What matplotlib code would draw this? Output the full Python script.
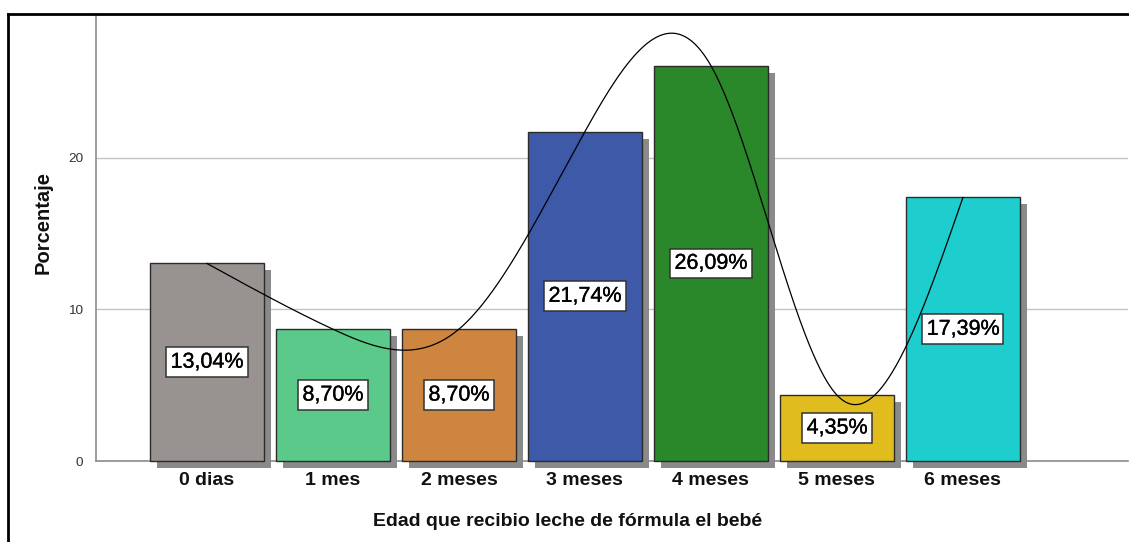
import numpy as np
import matplotlib
matplotlib.use("Agg")
import matplotlib.pyplot as plt
from matplotlib import patheffects as pe
from matplotlib.lines import Line2D

categories = ["0 dias", "1 mes", "2 meses", "3 meses", "4 meses", "5 meses", "6 meses"]
values = [13.04, 8.70, 8.70, 21.74, 26.09, 4.35, 17.39]
labels = ["13,04%", "8,70%", "8,70%", "21,74%", "26,09%", "4,35%", "17,39%"]
colors = ["#989391", "#5ac98a", "#cd853f", "#3d59a8", "#2a872a", "#e0bc1f", "#1ecdcd"]
yticks = [0, 10, 20]

plt.rcParams['font.family'] = ['Liberation Sans', 'DejaVu Sans']

W, H = 1129, 542
fig = plt.figure(figsize=(W / 100, H / 100), dpi=100)
ax = fig.add_axes([96 / W, (H - 461) / H, (1128 - 96) / W, (461 - 15.5) / H])

x = np.arange(len(categories))
shadow = [pe.SimplePatchShadow(offset=(5, -5), shadow_rgbFace='#8a8a8a', alpha=1.0), pe.Normal()]
bars = ax.bar(x, values, width=0.9, color=colors, edgecolor='#2b2b2b', linewidth=1.0, zorder=3)
for b in bars:
    b.set_path_effects(shadow)
    b.set_clip_on(False)

# natural cubic spline through bar tops
def natural_spline(xs, ys, xq):
    xs = np.asarray(xs, float); ys = np.asarray(ys, float)
    n = len(xs)
    h = np.diff(xs)
    A = np.zeros((n, n)); rhs = np.zeros(n)
    A[0, 0] = 1; A[-1, -1] = 1
    for i in range(1, n - 1):
        A[i, i - 1] = h[i - 1]
        A[i, i] = 2 * (h[i - 1] + h[i])
        A[i, i + 1] = h[i]
        rhs[i] = 6 * ((ys[i + 1] - ys[i]) / h[i] - (ys[i] - ys[i - 1]) / h[i - 1])
    M = np.linalg.solve(A, rhs)
    out = np.empty_like(xq)
    for k, xv in enumerate(xq):
        i = min(max(np.searchsorted(xs, xv) - 1, 0), n - 2)
        t0 = xs[i + 1] - xv; t1 = xv - xs[i]
        out[k] = (M[i] * t0 ** 3 + M[i + 1] * t1 ** 3) / (6 * h[i]) \
            + (ys[i] / h[i] - M[i] * h[i] / 6) * t0 + (ys[i + 1] / h[i] - M[i + 1] * h[i] / 6) * t1
    return out

xq = np.linspace(x[0], x[-1], 600)
ax.plot(xq, natural_spline(x, values, xq), color='black', linewidth=0.9, zorder=5)

medium = [pe.withStroke(linewidth=0.25, foreground='black')]
for xi, v, lab in zip(x, values, labels):
    t = ax.text(xi, v / 2, lab, ha='center', va='center', fontsize=15.5, fontweight='normal', color='black',
                zorder=6, bbox=dict(boxstyle='square,pad=0.2', facecolor='white', edgecolor='#333333', linewidth=1.1))
    t.set_path_effects(medium)

ax.set_xlim(-0.88, 7.31)
ax.set_ylim(0, 29.4)
ax.set_yticks(yticks)
ax.set_yticklabels([str(t) for t in yticks], fontsize=9.7, color='#333333')
ax.set_xticks(x)
ax.set_xticklabels(categories, fontsize=14, fontweight='bold', color='#111111')
ax.tick_params(axis='x', length=0, pad=8)
ax.tick_params(axis='y', length=0, pad=9)
ax.grid(axis='y', color='#c4c4c4', linewidth=1.0, zorder=0)
ax.set_axisbelow(True)
for s in ['top', 'right']:
    ax.spines[s].set_visible(False)
ax.spines['left'].set_color('#8c8c8c')
ax.spines['bottom'].set_color('#8c8c8c')
ax.spines['left'].set_linewidth(1.2)
ax.spines['bottom'].set_linewidth(1.2)

fig.text(568 / W, 1 - 521 / H, "Edad que recibio leche de fórmula el bebé", ha='center', va='center',
         fontsize=14, fontweight='bold', color='#111111')
fig.text(43 / W, 1 - 222 / H, "Porcentaje", ha='center', va='center', rotation=90,
         fontsize=14.5, fontweight='bold', color='#111111')

# outer frame (top and left edges visible)
fig.add_artist(Line2D([8 / W, 1.0], [1 - 13.5 / H, 1 - 13.5 / H], transform=fig.transFigure, color='black', linewidth=2))
fig.add_artist(Line2D([8 / W, 8 / W], [0, 1 - 13.5 / H], transform=fig.transFigure, color='black', linewidth=2))

fig.savefig("out.png", dpi=100)
